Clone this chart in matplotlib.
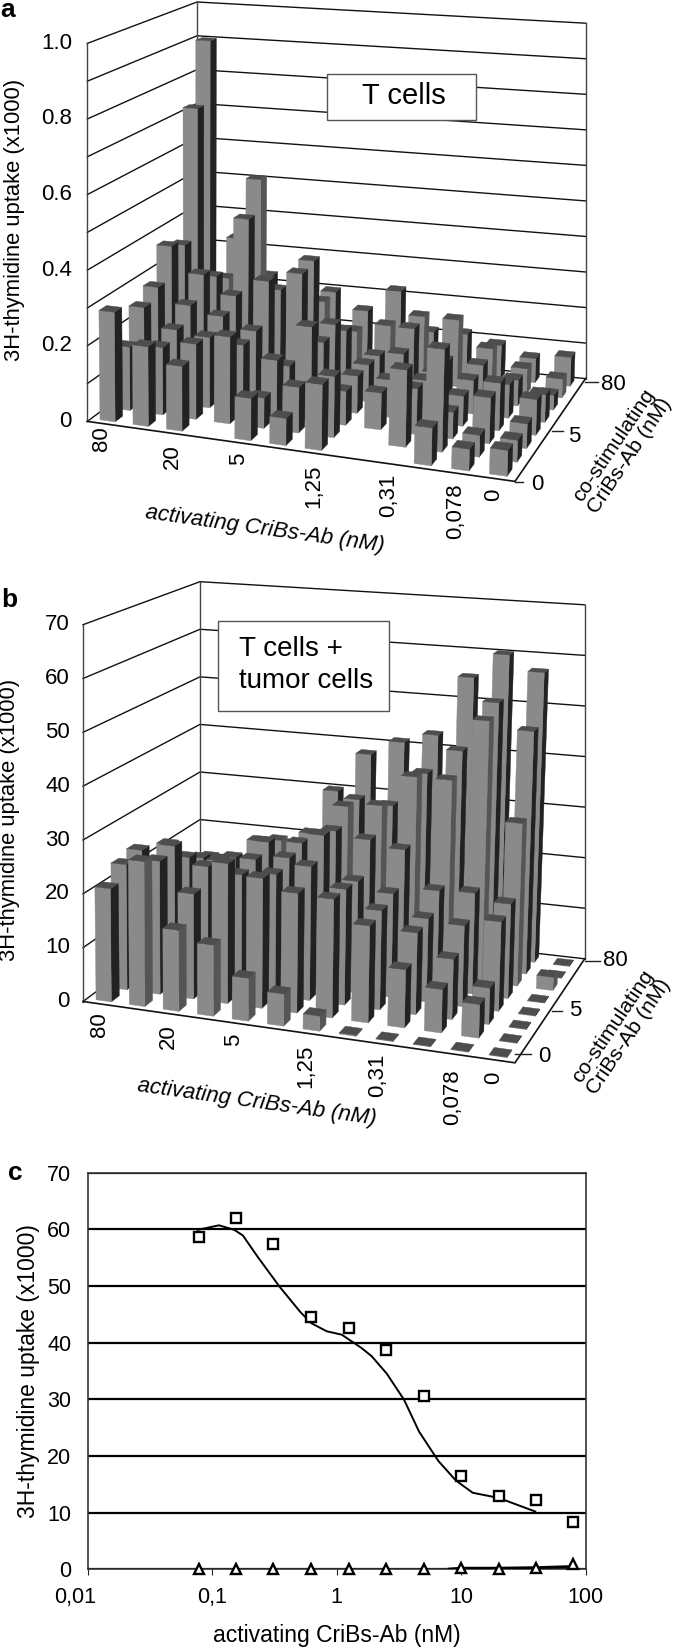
import matplotlib
matplotlib.use("Agg")
import matplotlib.pyplot as plt
from matplotlib.patches import Polygon, Rectangle
from matplotlib.transforms import ScaledTranslation

plt.rcParams['font.family'] = ['Liberation Sans', 'DejaVu Sans']

# one list per activating dose (80 ... 0), one value per co-stimulating dose (0 ... 80)
tcells = [
    [.29, .17, .25, .28, .37, .35, .72, .90],
    [.21, .18, .20, .24, .30, .27, .24, .33],
    [.17, .20, .19, .22, .25, .44, .53, .23],
    [0, .23, .18, .19, .30, .25, .20, .20],
    [.11, .08, .15, .105, .33, .34, .20, .20],
    [.07, .12, .25, .18, .20, .155, .125, .155],
    [.17, .16, .09, .10, .10, .095, .15, .22],
    [0, 0, .097, .10, .14, .18, .185, .113],
    [0, .20, .12, .11, .10, .10, .185, .116],
    [.096, .265, .07, .08, .09, .10, .115, .094],
    [.055, .056, .12, .126, .09, .07, .07, .067],
    [.065, .056, .064, .094, .074, .04, .052, .08],
]
tumor = [
    [21, 23.6, 24.5, 20, 22, 16.7, 15, 14],
    [26.8, 25, 26, 22, 20, 18, 15, 14],
    [14.9, 19.6, 22.8, 22, 20.8, 18, 20.4, 15],
    [13, 26, 22, 23, 24.5, 23, 20.4, 17],
    [7.8, 24, 22.8, 24, 25, 25, 22, 30],
    [5.8, 22, 25, 29, 28, 31, 30.6, 38],
    [2.7, 21.7, 21.5, 21, 27, 31.8, 30, 41],
    [.2, 17.6, 18.3, 19.4, 25.8, 38, 37, 43],
    [.1, 10.5, 15, 15.5, 18.7, 38, 42, 55],
    [.1, 7.8, 11, 15, 19, 50, 52, 60],
    [.1, 6, 6.6, 16.5, 17.7, 31, 47, 57],
    [.1, .1, .1, .1, .1, 2.5, .1, .1],
]

active_labels = ['80', '20', '5', '1,25', '0,31', '0,078', '0']
costim_labels = ['0', '5', '80']

dose = [.078, .156, .31, .625, 1.25, 2.5, 5, 10, 20, 40, 80]
with_tumor = [58.6, 62, 57.4, 44.6, 42.6, 38.7, 30.5, 16.5, 12.9, 12.2, 8.3]
without_tumor = [0, 0, 0, 0, 0, 0, 0, .3, 0, .3, .9]
fit_x = [.0762, .113, .15, .176, .232, .346, .514, .628, .83, 1.097, 1.57, 1.91,
         2.53, 3.48, 4.59, 6.57, 9.04, 12.4, 20, 39.4]
fit_y = [59.9, 60.7, 59.9, 58.9, 55.1, 49.9, 45.3, 43.4, 42, 41.4, 39.1, 37.6,
         34.5, 29.9, 24.3, 19.1, 15.7, 13.5, 12.6, 10.2]
fit2_x = [8, 10, 20, 40, 80]
fit2_y = [.05, .2, .2, .3, .5]

FRONT, SIDE, SOFT_SIDE, TOP = '#8a8a8a', '#222222', '#555555', '#4d4d4d'
GU, GV = -.08, .13      # perspective squeeze of the floor
LEAN_X, LEAN = 200, .0001

# pixel layout of the two 3D boxes
panel_a = dict(fl=(87.3, 421.4), fr=(515, 481.4), br=(585.5, 378.6), bl=(197, 340),
               hfl=378, hbr=355.4, hbl=338, zmax=1.0, soft_rows=[6])
panel_b = dict(fl=(83, 1001.5), fr=(515, 1062.8), br=(584.7, 958.8), bl=(200, 914.7),
               hfl=376.8, hbr=354, hbl=333, zmax=70, soft_rows=[0, 5])


def floor_xy(p, u, v):
    a = (1 + GU) * u / (1 + GU * u)
    b = (1 + GV) * v / (1 + GV * v)
    x = (1-a)*(1-b)*p['fl'][0] + a*(1-b)*p['fr'][0] + a*b*p['br'][0] + (1-a)*b*p['bl'][0]
    y = (1-a)*(1-b)*p['fl'][1] + a*(1-b)*p['fr'][1] + a*b*p['br'][1] + (1-a)*b*p['bl'][1]
    return x, y


def unit_height(p, u, v):
    gu = p['hfl'] / p['hbr'] - p['hfl'] / p['hbl']
    gv = p['hfl'] / p['hbl'] - 1
    return p['hfl'] / (1 + gu * u + gv * v)


def project(p, u, v, z, lean=True):
    x, y = floor_xy(p, u, v)
    h = z / p['zmax'] * unit_height(p, u, v)
    if lean:
        x += (x - LEAN_X) * LEAN * h
    return x, y - h


def draw_box(ax, p, n_lines):
    z0 = p['zmax']
    for k in range(n_lines + 1):
        z = z0 * k / n_lines
        pts = [project(p, 0, 0, z, False), project(p, 0, 1, z, False), project(p, 1, 1, z, False)]
        ax.plot(*zip(*pts), color='#111111', lw=1.0, zorder=1)
    for u, v in [(0, 0), (0, 1), (1, 1)]:
        ax.plot(*zip(project(p, u, v, 0, False), project(p, u, v, z0, False)), color='#444444', lw=1.0, zorder=1)
    ax.plot(*zip(project(p, 0, 0, 0, False), project(p, 1, 0, 0, False), project(p, 1, 1, 0, False)),
            color='#111111', lw=1.2, zorder=1)


def draw_bars(ax, p, values):
    z = 2
    nu, nv = len(values), len(values[0])
    for j in range(nv - 1, -1, -1):
        for i in range(nu):
            val = values[i][j]
            if val == 0:
                continue
            u0, u1 = (i + .27) / nu, (i + .73) / nu
            v0, v1 = (j + .25) / nv, (j + .75) / nv
            front = [project(p, u0, v0, 0), project(p, u1, v0, 0), project(p, u1, v0, val), project(p, u0, v0, val)]
            side = [project(p, u1, v0, 0), project(p, u1, v1, 0), project(p, u1, v1, val), project(p, u1, v0, val)]
            top = [project(p, u0, v0, val), project(p, u1, v0, val), project(p, u1, v1, val), project(p, u0, v1, val)]
            side_col = SOFT_SIDE if j in p['soft_rows'] and i > 0 else SIDE
            for pts, col in [(side, side_col), (front, FRONT), (top, TOP)]:
                ax.add_patch(Polygon(pts, closed=True, facecolor=col, edgecolor=col, lw=.3, zorder=z))
            z += .01


fig = plt.figure(figsize=(6.74, 16.47), dpi=100)
ax = fig.add_axes([0, 0, 1, 1])
ax.set_xlim(0, 674)
ax.set_ylim(1647, 0)
ax.axis('off')

FS = 16

# panel a
draw_box(ax, panel_a, 10)
draw_bars(ax, panel_a, tcells)
ax.add_patch(Rectangle((327, 74), 149, 46, facecolor='white', edgecolor='#555555', lw=1, zorder=50))
ax.text(404, 96, 'T cells', fontsize=21, ha='center', va='center', zorder=51)
for k, lab in enumerate(['0', '0.2', '0.4', '0.6', '0.8', '1.0']):
    ax.text(72, panel_a['fl'][1] - k * 75.6, lab, fontsize=FS, ha='right', va='center')
ax.text(15, 220, '3H-thymidine uptake (x1000)', fontsize=15.8, rotation=90, ha='center', va='center')
for (x, y), lab in zip([(102, 439), (172, 457), (239, 459), (314, 486), (389, 495), (456, 511), (494, 495)], active_labels):
    ax.text(x, y, lab, fontsize=FS, rotation=90, ha='center', va='center')
ax.text(265, 529, 'activating CriBs-Ab (nM)', fontsize=FS, style='italic', rotation=-8, ha='center', va='center')
for (x, y), lab in zip([(537, 485), (574, 436), (613, 385)], costim_labels):
    ax.text(x, y, lab, fontsize=FS, ha='center', va='center')
for x0, x1, y in [(515, 523, 482), (552, 563, 431), (585, 598, 382)]:
    ax.plot([x0, x1], [y, y], color='#222222', lw=1)
ax.text(622, 451, 'co-stimulating\nCriBs-Ab (nM)', fontsize=15.3, rotation=56, ha='center', va='center', linespacing=1.0)
ax.text(0, 10, 'a', fontsize=19, fontweight='bold', ha='left', va='center')

# panel b
draw_box(ax, panel_b, 7)
draw_bars(ax, panel_b, tumor)
ax.add_patch(Rectangle((218, 621.3), 171, 89.2, facecolor='white', edgecolor='#555555', lw=1, zorder=50))
ax.text(238.6, 648.5, 'T cells +', fontsize=20, ha='left', va='center', zorder=51)
ax.text(238.6, 680.5, 'tumor cells', fontsize=20, ha='left', va='center', zorder=51)
for k in range(8):
    ax.text(70, panel_b['fl'][1] - k * 53.83, str(k * 10), fontsize=FS, ha='right', va='center')
ax.text(10, 820, '3H-thymidine uptake (x1000)', fontsize=15.8, rotation=90, ha='center', va='center')
for (x, y), lab in zip([(100, 1025), (168, 1037), (234, 1040), (306, 1066), (378, 1075), (453, 1097), (494, 1078)], active_labels):
    ax.text(x, y, lab, fontsize=FS, rotation=90, ha='center', va='center')
ax.text(257, 1102, 'activating CriBs-Ab (nM)', fontsize=FS, style='italic', rotation=-8, ha='center', va='center')
for (x, y), lab in zip([(544, 1056), (575, 1011), (615, 961)], costim_labels):
    ax.text(x, y, lab, fontsize=FS, ha='center', va='center')
for x0, x1, y in [(515, 531, 1054), (552, 562, 1011), (585, 600, 961)]:
    ax.plot([x0, x1], [y, y], color='#222222', lw=1)
ax.text(621, 1032, 'co-stimulating\nCriBs-Ab (nM)', fontsize=15.3, rotation=56, ha='center', va='center', linespacing=1.0)
ax.text(1, 600, 'b', fontsize=19, fontweight='bold', ha='left', va='center')

# panel c
fig.text(8 / 674, 1 - 1173 / 1647, 'c', fontsize=19, fontweight='bold', ha='left', va='center')
axc = fig.add_axes([88 / 674, 1 - 1569.3 / 1647, 497.5 / 674, 396.7 / 1647])
axc.set_xscale('log')
axc.set_xlim(.01, 100)
axc.set_ylim(0, 70)
axc.set_yticks(range(0, 80, 10))
axc.set_xticks([.01, .1, 1, 10, 100])
axc.set_xticklabels(['0,01', '0,1', '1', '10', '100'])
axc.minorticks_off()
axc.tick_params(axis='x', length=4, labelsize=15.5, pad=9, color='#222222')
axc.tick_params(axis='y', length=0, labelsize=15.5, pad=12)
axc.grid(axis='y', color='black', lw=1.6)
axc.set_axisbelow(True)
first = axc.get_xticklabels()[0]
first.set_transform(first.get_transform() + ScaledTranslation(-13 / 100, 0, fig.dpi_scale_trans))
for s in axc.spines.values():
    s.set_color('#333333')
    s.set_linewidth(1.2)
axc.plot(fit_x, fit_y, color='black', lw=1.4, zorder=3)
axc.plot(fit2_x, fit2_y, color='black', lw=2, zorder=3)
axc.plot(dose, with_tumor, ls='none', marker='s', ms=7.5, mfc='white', mec='black', mew=1.7, zorder=4, clip_on=False)
axc.plot(dose, without_tumor, ls='none', marker='^', ms=7.5, mfc='white', mec='black', mew=1.7, zorder=4, clip_on=False)
axc.set_xlabel('activating CriBs-Ab (nM)', fontsize=16.5, labelpad=11)
axc.set_ylabel('3H-thymidine uptake (x1000)', fontsize=16.5, labelpad=5)

fig.savefig('out.png', dpi=100)
